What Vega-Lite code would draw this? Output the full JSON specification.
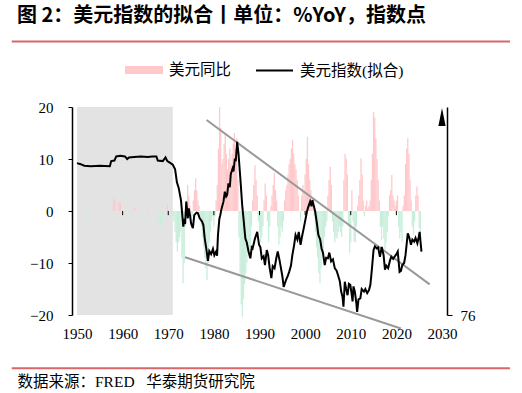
{
  "$schema": "https://vega.github.io/schema/vega-lite/v6.json",
  "width": 375,
  "height": 208,
  "autosize": {"type": "none"},
  "padding": {"left": 72, "top": 107, "right": 75, "bottom": 78},
  "background": "#ffffff",
  "title": {
    "text": "图 2：美元指数的拟合丨单位：%YoY，指数点",
    "anchor": "start",
    "frame": "group",
    "dx": -55,
    "offset": 14,
    "font": "Noto Sans CJK SC",
    "fontWeight": "bold",
    "fontSize": 20,
    "color": "#000000"
  },
  "config": {
    "view": {"stroke": null},
    "axis": {"grid": false, "labelFont": "Liberation Serif", "labelFontSize": 15, "labelColor": "#000000", "domainColor": "#000000", "tickColor": "#000000"},
    "legend": {"labelFont": "Liberation Serif, Noto Sans CJK SC", "labelFontSize": 15.5, "labelColor": "#000000", "padding": 0, "title": null}
  },
  "datasets": {
    "yoy": [
      {"year": 1951.5, "yoy": -0.8}, {"year": 1952.0, "yoy": -0.8}, {"year": 1958.0, "yoy": 2.4}, {"year": 1958.3, "yoy": 2.0},
      {"year": 1959.2, "yoy": 1.8}, {"year": 1959.5, "yoy": 1.6}, {"year": 1961.5, "yoy": -1.2}, {"year": 1962.0, "yoy": -0.8},
      {"year": 1962.6, "yoy": 0.6}, {"year": 1965.5, "yoy": 0.3}, {"year": 1968.0, "yoy": -3.0}, {"year": 1968.3, "yoy": -3.3},
      {"year": 1968.6, "yoy": -2.5}, {"year": 1969.8, "yoy": 1.2}, {"year": 1970.3, "yoy": -0.5}, {"year": 1970.7, "yoy": -1.5},
      {"year": 1971.0, "yoy": -1}, {"year": 1971.25, "yoy": -2}, {"year": 1971.5, "yoy": -4}, {"year": 1971.75, "yoy": -6},
      {"year": 1972.0, "yoy": -7.8}, {"year": 1972.25, "yoy": -6}, {"year": 1972.5, "yoy": -5}, {"year": 1972.75, "yoy": -4},
      {"year": 1973.0, "yoy": -9}, {"year": 1973.25, "yoy": -13.9}, {"year": 1973.5, "yoy": -10}, {"year": 1973.75, "yoy": -3},
      {"year": 1974.0, "yoy": 2}, {"year": 1974.25, "yoy": 5}, {"year": 1974.5, "yoy": 3}, {"year": 1974.75, "yoy": 1},
      {"year": 1975.0, "yoy": -2}, {"year": 1975.25, "yoy": -1}, {"year": 1975.5, "yoy": 2}, {"year": 1975.75, "yoy": 4},
      {"year": 1976.0, "yoy": 6.3}, {"year": 1976.25, "yoy": 4}, {"year": 1976.5, "yoy": 2}, {"year": 1976.75, "yoy": 1},
      {"year": 1977.0, "yoy": -1}, {"year": 1977.25, "yoy": -3}, {"year": 1977.5, "yoy": -5}, {"year": 1977.75, "yoy": -7},
      {"year": 1978.0, "yoy": -9}, {"year": 1978.25, "yoy": -11}, {"year": 1978.5, "yoy": -13.3}, {"year": 1978.75, "yoy": -10},
      {"year": 1979.0, "yoy": -6}, {"year": 1979.25, "yoy": -4}, {"year": 1979.5, "yoy": -2}, {"year": 1979.75, "yoy": -1},
      {"year": 1980.0, "yoy": -3}, {"year": 1980.25, "yoy": -1}, {"year": 1980.5, "yoy": 2}, {"year": 1980.75, "yoy": 5},
      {"year": 1981.0, "yoy": 12}, {"year": 1981.25, "yoy": 20}, {"year": 1981.5, "yoy": 16}, {"year": 1981.75, "yoy": 9},
      {"year": 1982.0, "yoy": 10}, {"year": 1982.25, "yoy": 13}, {"year": 1982.5, "yoy": 15}, {"year": 1982.75, "yoy": 11},
      {"year": 1983.0, "yoy": 8}, {"year": 1983.25, "yoy": 10}, {"year": 1983.5, "yoy": 12}, {"year": 1983.75, "yoy": 9},
      {"year": 1984.0, "yoy": 11}, {"year": 1984.25, "yoy": 13}, {"year": 1984.5, "yoy": 15}, {"year": 1984.75, "yoy": 12},
      {"year": 1985.0, "yoy": 14}, {"year": 1985.25, "yoy": 6}, {"year": 1985.5, "yoy": -5}, {"year": 1985.75, "yoy": -12},
      {"year": 1986.0, "yoy": -18}, {"year": 1986.25, "yoy": -20.3}, {"year": 1986.5, "yoy": -17}, {"year": 1986.75, "yoy": -14},
      {"year": 1987.0, "yoy": -12}, {"year": 1987.25, "yoy": -10}, {"year": 1987.5, "yoy": -8}, {"year": 1987.75, "yoy": -9},
      {"year": 1988.0, "yoy": -7}, {"year": 1988.25, "yoy": -3}, {"year": 1988.5, "yoy": 2}, {"year": 1988.75, "yoy": 5},
      {"year": 1989.0, "yoy": 8.8}, {"year": 1989.25, "yoy": 6}, {"year": 1989.5, "yoy": 3}, {"year": 1989.75, "yoy": -2},
      {"year": 1990.0, "yoy": -4}, {"year": 1990.25, "yoy": -6}, {"year": 1990.5, "yoy": -5}, {"year": 1990.75, "yoy": -3},
      {"year": 1991.0, "yoy": 2}, {"year": 1991.25, "yoy": 5.3}, {"year": 1991.5, "yoy": 3}, {"year": 1991.75, "yoy": -2},
      {"year": 1992.0, "yoy": -6}, {"year": 1992.25, "yoy": -3}, {"year": 1992.5, "yoy": 1}, {"year": 1992.75, "yoy": 3},
      {"year": 1993.0, "yoy": 5}, {"year": 1993.25, "yoy": 7.3}, {"year": 1993.5, "yoy": 4}, {"year": 1993.75, "yoy": 2},
      {"year": 1994.0, "yoy": -3}, {"year": 1994.25, "yoy": -6.5}, {"year": 1994.5, "yoy": -5}, {"year": 1994.75, "yoy": -3},
      {"year": 1995.0, "yoy": -4}, {"year": 1995.25, "yoy": -2}, {"year": 1995.5, "yoy": 2}, {"year": 1995.75, "yoy": 4},
      {"year": 1996.0, "yoy": 5}, {"year": 1996.25, "yoy": 7}, {"year": 1996.5, "yoy": 9}, {"year": 1996.75, "yoy": 10},
      {"year": 1997.0, "yoy": 12}, {"year": 1997.25, "yoy": 13.7}, {"year": 1997.5, "yoy": 11}, {"year": 1997.75, "yoy": 9},
      {"year": 1998.0, "yoy": 8}, {"year": 1998.25, "yoy": 6}, {"year": 1998.5, "yoy": 3}, {"year": 1998.75, "yoy": 0},
      {"year": 1999.0, "yoy": -2}, {"year": 1999.25, "yoy": 3}, {"year": 1999.5, "yoy": 5}, {"year": 1999.75, "yoy": 4},
      {"year": 2000.0, "yoy": 7}, {"year": 2000.25, "yoy": 10}, {"year": 2000.5, "yoy": 14.3}, {"year": 2000.75, "yoy": 9},
      {"year": 2001.0, "yoy": 6}, {"year": 2001.25, "yoy": 4}, {"year": 2001.5, "yoy": 2}, {"year": 2001.75, "yoy": 1},
      {"year": 2002.0, "yoy": -1}, {"year": 2002.25, "yoy": -4}, {"year": 2002.5, "yoy": -7}, {"year": 2002.75, "yoy": -9},
      {"year": 2003.0, "yoy": -12}, {"year": 2003.25, "yoy": -13.9}, {"year": 2003.5, "yoy": -11}, {"year": 2003.75, "yoy": -8},
      {"year": 2004.0, "yoy": -7.8}, {"year": 2004.25, "yoy": -5}, {"year": 2004.5, "yoy": -3}, {"year": 2004.75, "yoy": -2},
      {"year": 2005.0, "yoy": 3}, {"year": 2005.25, "yoy": 6}, {"year": 2005.5, "yoy": 8.5}, {"year": 2005.75, "yoy": 5},
      {"year": 2006.0, "yoy": -2}, {"year": 2006.25, "yoy": -4}, {"year": 2006.5, "yoy": -6}, {"year": 2006.75, "yoy": -5},
      {"year": 2007.0, "yoy": -5.3}, {"year": 2007.25, "yoy": -4}, {"year": 2007.5, "yoy": -3}, {"year": 2007.75, "yoy": -4},
      {"year": 2008.0, "yoy": -5}, {"year": 2008.25, "yoy": -3}, {"year": 2008.5, "yoy": 6}, {"year": 2008.75, "yoy": 11},
      {"year": 2009.0, "yoy": 10.1}, {"year": 2009.25, "yoy": 7}, {"year": 2009.5, "yoy": -3}, {"year": 2009.75, "yoy": -8},
      {"year": 2010.0, "yoy": -6}, {"year": 2010.25, "yoy": 4}, {"year": 2010.5, "yoy": -2}, {"year": 2010.75, "yoy": -5.9},
      {"year": 2011.0, "yoy": -6}, {"year": 2011.25, "yoy": -3}, {"year": 2011.5, "yoy": 1}, {"year": 2011.75, "yoy": 3},
      {"year": 2012.0, "yoy": 6}, {"year": 2012.25, "yoy": 10.1}, {"year": 2012.5, "yoy": 7}, {"year": 2012.75, "yoy": 2},
      {"year": 2013.0, "yoy": -1}, {"year": 2013.25, "yoy": 1}, {"year": 2013.5, "yoy": 2}, {"year": 2013.75, "yoy": 0.5},
      {"year": 2014.0, "yoy": 1}, {"year": 2014.25, "yoy": 2}, {"year": 2014.5, "yoy": 6}, {"year": 2014.75, "yoy": 11},
      {"year": 2015.0, "yoy": 19.1}, {"year": 2015.25, "yoy": 18}, {"year": 2015.5, "yoy": 14}, {"year": 2015.75, "yoy": 10},
      {"year": 2016.0, "yoy": 6}, {"year": 2016.25, "yoy": 2}, {"year": 2016.5, "yoy": -3}, {"year": 2016.75, "yoy": -5.6},
      {"year": 2017.0, "yoy": -3}, {"year": 2017.25, "yoy": -5.3}, {"year": 2017.5, "yoy": -7.5}, {"year": 2017.75, "yoy": -6},
      {"year": 2018.0, "yoy": -4}, {"year": 2018.25, "yoy": -1}, {"year": 2018.5, "yoy": 3}, {"year": 2018.75, "yoy": 4},
      {"year": 2019.0, "yoy": 6.9}, {"year": 2019.25, "yoy": 3}, {"year": 2019.5, "yoy": 2}, {"year": 2019.75, "yoy": 1},
      {"year": 2020.0, "yoy": 2}, {"year": 2020.25, "yoy": 3}, {"year": 2020.5, "yoy": -3}, {"year": 2020.75, "yoy": -5.3},
      {"year": 2021.0, "yoy": -4}, {"year": 2021.25, "yoy": -6}, {"year": 2021.5, "yoy": 1}, {"year": 2021.75, "yoy": 3},
      {"year": 2022.0, "yoy": 9}, {"year": 2022.25, "yoy": 12}, {"year": 2022.5, "yoy": 14}, {"year": 2022.75, "yoy": 11},
      {"year": 2023.0, "yoy": 6}, {"year": 2023.25, "yoy": 2}, {"year": 2023.5, "yoy": -3}, {"year": 2023.75, "yoy": -4.6},
      {"year": 2024.0, "yoy": -2}, {"year": 2024.25, "yoy": 3}, {"year": 2024.5, "yoy": 4.7}, {"year": 2024.75, "yoy": 3},
      {"year": 2025.0, "yoy": -3.3}, {"year": 2025.25, "yoy": -5}
    ],
    "index": [
      {"year": 1950.0, "idx": 149}, {"year": 1950.8, "idx": 148.5}, {"year": 1951.6, "idx": 147.75}, {"year": 1953.0, "idx": 147.5},
      {"year": 1955.0, "idx": 147.75}, {"year": 1957.2, "idx": 147.5}, {"year": 1957.5, "idx": 150}, {"year": 1958.2, "idx": 150.25},
      {"year": 1958.6, "idx": 152.25}, {"year": 1959.5, "idx": 152.5}, {"year": 1960.5, "idx": 152.25}, {"year": 1961.0, "idx": 151},
      {"year": 1961.4, "idx": 151.75}, {"year": 1962.5, "idx": 152}, {"year": 1964.0, "idx": 152.25}, {"year": 1965.5, "idx": 152},
      {"year": 1966.5, "idx": 152.25}, {"year": 1967.4, "idx": 152.25}, {"year": 1967.7, "idx": 150.25}, {"year": 1968.8, "idx": 150},
      {"year": 1969.4, "idx": 151.75}, {"year": 1969.8, "idx": 150}, {"year": 1970.5, "idx": 149}, {"year": 1971.0, "idx": 148.25},
      {"year": 1971.5, "idx": 146}, {"year": 1971.9, "idx": 139.75}, {"year": 1972.3, "idx": 137}, {"year": 1972.8, "idx": 131},
      {"year": 1973.1, "idx": 123.5}, {"year": 1973.3, "idx": 118.5}, {"year": 1973.5, "idx": 122.25}, {"year": 1973.7, "idx": 119.75},
      {"year": 1973.95, "idx": 130.5}, {"year": 1974.2, "idx": 124.75}, {"year": 1974.3, "idx": 122.5}, {"year": 1974.5, "idx": 127.25},
      {"year": 1974.8, "idx": 123.5}, {"year": 1975.0, "idx": 120}, {"year": 1975.4, "idx": 117.75}, {"year": 1975.7, "idx": 124},
      {"year": 1976.2, "idx": 125.25}, {"year": 1976.5, "idx": 125}, {"year": 1976.9, "idx": 122.5}, {"year": 1977.4, "idx": 121},
      {"year": 1977.7, "idx": 119.25}, {"year": 1978.0, "idx": 112.75}, {"year": 1978.3, "idx": 108.5}, {"year": 1978.7, "idx": 102},
      {"year": 1979.0, "idx": 106.75}, {"year": 1979.4, "idx": 105.25}, {"year": 1979.8, "idx": 107.75}, {"year": 1980.1, "idx": 104.75},
      {"year": 1980.5, "idx": 106.5}, {"year": 1980.7, "idx": 104.5}, {"year": 1980.9, "idx": 114.5}, {"year": 1981.2, "idx": 122.25},
      {"year": 1981.4, "idx": 124}, {"year": 1981.7, "idx": 127.25}, {"year": 1982.1, "idx": 130.5}, {"year": 1982.4, "idx": 135.25},
      {"year": 1982.7, "idx": 133}, {"year": 1982.9, "idx": 133.75}, {"year": 1983.2, "idx": 139.25}, {"year": 1983.5, "idx": 137.5},
      {"year": 1983.7, "idx": 143.75}, {"year": 1984.1, "idx": 146.5}, {"year": 1984.3, "idx": 145}, {"year": 1984.6, "idx": 151.25},
      {"year": 1984.8, "idx": 150}, {"year": 1985.1, "idx": 159.25}, {"year": 1985.4, "idx": 153.5}, {"year": 1985.8, "idx": 141.75},
      {"year": 1986.2, "idx": 129}, {"year": 1986.5, "idx": 122.25}, {"year": 1986.9, "idx": 112.75}, {"year": 1987.2, "idx": 111},
      {"year": 1987.6, "idx": 106.5}, {"year": 1988.0, "idx": 103.25}, {"year": 1988.3, "idx": 108.5}, {"year": 1988.5, "idx": 108},
      {"year": 1989.0, "idx": 112.75}, {"year": 1989.5, "idx": 116}, {"year": 1989.9, "idx": 109.75}, {"year": 1990.2, "idx": 108.5},
      {"year": 1990.5, "idx": 103.25}, {"year": 1990.9, "idx": 104.25}, {"year": 1991.2, "idx": 100}, {"year": 1991.6, "idx": 107.25},
      {"year": 1991.9, "idx": 104.75}, {"year": 1992.2, "idx": 99}, {"year": 1992.6, "idx": 93.75}, {"year": 1992.9, "idx": 99.5},
      {"year": 1993.3, "idx": 98.5}, {"year": 1993.7, "idx": 103.5}, {"year": 1994.0, "idx": 106.5}, {"year": 1994.4, "idx": 102.25},
      {"year": 1994.7, "idx": 98.5}, {"year": 1995.0, "idx": 94.75}, {"year": 1995.3, "idx": 89.5}, {"year": 1995.8, "idx": 92.75},
      {"year": 1996.2, "idx": 94.75}, {"year": 1996.5, "idx": 96.75}, {"year": 1996.9, "idx": 99.75}, {"year": 1997.2, "idx": 104.75},
      {"year": 1997.6, "idx": 109.75}, {"year": 1997.9, "idx": 114.5}, {"year": 1998.3, "idx": 112.25}, {"year": 1998.6, "idx": 116},
      {"year": 1999.0, "idx": 109.75}, {"year": 1999.3, "idx": 113.5}, {"year": 1999.7, "idx": 117.75}, {"year": 2000.1, "idx": 122.25},
      {"year": 2000.4, "idx": 125.75}, {"year": 2000.7, "idx": 128}, {"year": 2001.1, "idx": 130.5}, {"year": 2001.4, "idx": 128.25},
      {"year": 2001.6, "idx": 131.25}, {"year": 2001.9, "idx": 128.5}, {"year": 2002.2, "idx": 125.75}, {"year": 2002.6, "idx": 119.75},
      {"year": 2002.9, "idx": 114.5}, {"year": 2003.3, "idx": 112.25}, {"year": 2003.6, "idx": 108}, {"year": 2003.9, "idx": 106},
      {"year": 2004.3, "idx": 100}, {"year": 2004.6, "idx": 103.5}, {"year": 2005.0, "idx": 103.25}, {"year": 2005.3, "idx": 106},
      {"year": 2005.7, "idx": 101.75}, {"year": 2006.1, "idx": 102.75}, {"year": 2006.5, "idx": 98.5}, {"year": 2006.9, "idx": 97.25},
      {"year": 2007.2, "idx": 95.25}, {"year": 2007.6, "idx": 92.25}, {"year": 2007.9, "idx": 87.25}, {"year": 2008.2, "idx": 84.75},
      {"year": 2008.4, "idx": 80}, {"year": 2008.7, "idx": 92}, {"year": 2009.0, "idx": 88.5}, {"year": 2009.3, "idx": 85.5},
      {"year": 2009.6, "idx": 91}, {"year": 2009.9, "idx": 90.5}, {"year": 2010.2, "idx": 86}, {"year": 2010.4, "idx": 82.5},
      {"year": 2010.6, "idx": 89.75}, {"year": 2010.9, "idx": 87.25}, {"year": 2011.2, "idx": 82.25}, {"year": 2011.4, "idx": 77.5},
      {"year": 2011.7, "idx": 83.5}, {"year": 2012.1, "idx": 84}, {"year": 2012.4, "idx": 88.5}, {"year": 2012.9, "idx": 87.25},
      {"year": 2013.2, "idx": 88.5}, {"year": 2013.6, "idx": 86.5}, {"year": 2014.0, "idx": 88}, {"year": 2014.3, "idx": 90.5},
      {"year": 2014.6, "idx": 97.25}, {"year": 2015.0, "idx": 107.25}, {"year": 2015.3, "idx": 109}, {"year": 2015.7, "idx": 108},
      {"year": 2016.0, "idx": 108.5}, {"year": 2016.4, "idx": 104}, {"year": 2016.8, "idx": 108.75}, {"year": 2017.2, "idx": 104.75},
      {"year": 2017.5, "idx": 97.75}, {"year": 2017.8, "idx": 99.75}, {"year": 2018.2, "idx": 98.5}, {"year": 2018.6, "idx": 102.25},
      {"year": 2018.9, "idx": 104}, {"year": 2019.3, "idx": 103}, {"year": 2019.6, "idx": 104}, {"year": 2020.0, "idx": 105.25},
      {"year": 2020.3, "idx": 106.5}, {"year": 2020.7, "idx": 96.75}, {"year": 2021.0, "idx": 97.25}, {"year": 2021.3, "idx": 100},
      {"year": 2021.7, "idx": 101}, {"year": 2022.0, "idx": 104.75}, {"year": 2022.5, "idx": 115.25}, {"year": 2022.8, "idx": 113.5},
      {"year": 2023.2, "idx": 109.75}, {"year": 2023.5, "idx": 112.25}, {"year": 2023.9, "idx": 111.25}, {"year": 2024.2, "idx": 113},
      {"year": 2024.6, "idx": 110.5}, {"year": 2024.9, "idx": 113.5}, {"year": 2025.1, "idx": 116}, {"year": 2025.3, "idx": 111},
      {"year": 2025.5, "idx": 106.5}
    ],
    "trend": [
      {"edge": "upper", "year": 1978.4, "idx": 169.75}, {"edge": "upper", "year": 2027.3, "idx": 90.75},
      {"edge": "lower", "year": 1973.7, "idx": 103.75}, {"edge": "lower", "year": 2021.0, "idx": 69.5}
    ],
    "regime": [{"start": 1950, "end": 1971}],
    "decades": [
      {"year": 1960}, {"year": 1970}, {"year": 1980}, {"year": 1990}, {"year": 2000}, {"year": 2010}, {"year": 2020}
    ],
    "separators": [
      {"from": 1935.7, "to": 2044.9, "level": 32.6},
      {"from": 1935.7, "to": 2044.9, "level": -30.25}
    ],
    "axisHead": [{"year": 2030, "idx": 171.2}]
  },
  "encoding": {
    "x": {
      "field": "year",
      "type": "quantitative",
      "scale": {"domain": [1950, 2030], "nice": false, "zero": false},
      "axis": {
        "values": [1950, 1960, 1970, 1980, 1990, 2000, 2010, 2020, 2030],
        "format": "d",
        "domain": false,
        "ticks": false,
        "labelPadding": 11,
        "title": "数据来源：FRED\u00a0\u00a0\u00a0华泰期货研究院",
        "titleFont": "Liberation Serif, Noto Sans CJK SC",
        "titleFontSize": 15.5,
        "titleFontWeight": "normal",
        "titleColor": "#000000",
        "titleAlign": "left",
        "titleAnchor": "start",
        "titleBaseline": "alphabetic",
        "titleX": -55,
        "titleY": 71
      }
    }
  },
  "layer": [
    {
      "layer": [
        {
          "data": {"name": "regime"},
          "mark": {"type": "rect", "color": "#e3e3e3"},
          "encoding": {
            "x": {"field": "start", "type": "quantitative"},
            "x2": {"field": "end"},
            "y": {"datum": -20, "type": "quantitative"},
            "y2": {"datum": 20}
          }
        },
        {
          "data": {"name": "yoy"},
          "mark": {"type": "bar", "width": 1.3},
          "encoding": {
            "y": {
              "field": "yoy",
              "type": "quantitative",
              "scale": {"domain": [-20, 20], "nice": false},
              "axis": {"values": [-20, -10, 0, 10, 20], "title": null, "tickSize": 4, "labelPadding": 15, "domainWidth": 1.5}
            },
            "fill": {
              "condition": {"test": "datum.yoy < 0", "value": "#c9eedb"},
              "datum": "美元同比",
              "scale": {"range": ["#ffc9cc"]},
              "legend": {
                "orient": "none",
                "legendX": 53,
                "legendY": -56,
                "symbolType": "M-1,-0.21H1V0.21H-1Z",
                "symbolSize": 1444,
                "symbolStrokeWidth": 0,
                "labelOffset": 6
              }
            }
          }
        },
        {
          "data": {"name": "decades"},
          "mark": {"type": "rule", "color": "#000000", "strokeWidth": 1},
          "encoding": {
            "x": {"field": "year", "type": "quantitative"},
            "y": {"datum": 0, "type": "quantitative"},
            "y2": {"datum": -0.8}
          }
        },
        {
          "data": {"name": "separators"},
          "mark": {"type": "rule", "color": "#d9666a", "strokeWidth": 2},
          "encoding": {
            "x": {"field": "from", "type": "quantitative"},
            "x2": {"field": "to"},
            "y": {"field": "level", "type": "quantitative"}
          }
        },
        {
          "data": {"name": "regime"},
          "mark": {"type": "rule", "color": "#000000", "strokeWidth": 1.5},
          "encoding": {
            "x": {"datum": 1950, "type": "quantitative"},
            "x2": {"datum": 2030},
            "y": {"datum": 0, "type": "quantitative"}
          }
        }
      ]
    },
    {
      "layer": [
        {
          "data": {"name": "trend"},
          "mark": {"type": "line", "color": "#999999", "strokeWidth": 2},
          "encoding": {
            "y": {"field": "idx", "type": "quantitative"},
            "detail": {"field": "edge"}
          }
        },
        {
          "data": {"name": "index"},
          "mark": {"type": "line", "strokeWidth": 2, "interpolate": "linear"},
          "encoding": {
            "y": {
              "field": "idx",
              "type": "quantitative",
              "scale": {"domain": [76, 176], "nice": false, "zero": false},
              "axis": {"orient": "right", "values": [76], "title": null, "tickSize": 5, "labelPadding": 8, "domainWidth": 1.5}
            },
            "stroke": {
              "datum": "美元指数(拟合)",
              "scale": {"range": ["#000000"]},
              "legend": {
                "orient": "none",
                "legendX": 183,
                "legendY": -56,
                "symbolType": "stroke",
                "symbolSize": 1369,
                "symbolStrokeWidth": 2,
                "labelOffset": 6
              }
            }
          }
        },
        {
          "data": {"name": "axisHead"},
          "mark": {"type": "point", "shape": "M0,-1L0.4,1L-0.4,1Z", "filled": true, "fill": "#000000", "strokeWidth": 0, "size": 324, "opacity": 1},
          "encoding": {
            "y": {"field": "idx", "type": "quantitative"}
          }
        }
      ]
    }
  ],
  "resolve": {"scale": {"y": "independent", "fill": "independent", "stroke": "independent"}}
}
